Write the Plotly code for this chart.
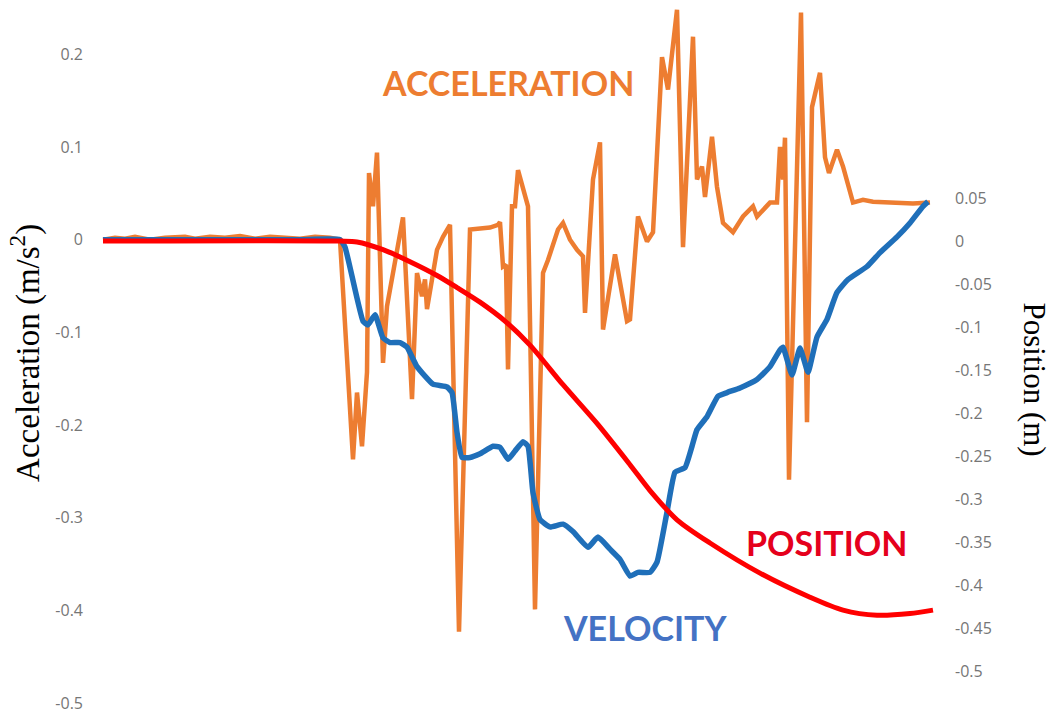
import plotly.graph_objects as go

# ---- data (time in s) ----
acc_t = [0.03, 0.15, 0.25, 0.35, 0.50, 0.65, 0.85, 0.95, 1.10, 1.25, 1.40, 1.55, 1.70, 1.85, 2.00,
         2.15, 2.30, 2.40, 2.53, 2.57, 2.62, 2.67, 2.69, 2.73, 2.77, 2.83, 2.87, 3.03, 3.12, 3.17,
         3.22, 3.25, 3.27, 3.37, 3.43, 3.50, 3.59, 3.70, 3.90, 3.98, 4.00, 4.03, 4.06, 4.08, 4.12,
         4.15, 4.18, 4.28, 4.35, 4.43, 4.48, 4.58, 4.63, 4.70, 4.77, 4.83, 4.85, 4.93, 5.00, 5.03,
         5.08, 5.15, 5.27, 5.30, 5.38, 5.47, 5.53, 5.62, 5.68, 5.77, 5.83, 5.93, 5.97, 6.02, 6.05,
         6.12, 6.17, 6.23, 6.33, 6.43, 6.53, 6.57, 6.70, 6.77, 6.80, 6.83, 6.85, 6.89, 7.01, 7.07,
         7.12, 7.20, 7.25, 7.29, 7.37, 7.43, 7.53, 7.63, 7.73, 7.93, 8.13, 8.30]
acc_v = [0.000, 0.002, 0.001, 0.003, 0.000, 0.002, 0.003, 0.001, 0.003, 0.002, 0.004, 0.001, 0.003, 0.002, 0.001,
         0.003, 0.002, 0.000, -0.237, -0.165, -0.223, -0.143, 0.072, 0.036, 0.094, -0.133, -0.072, 0.024, -0.172, -0.036,
         -0.061, -0.043, -0.075, -0.011, 0.003, 0.016, -0.423, 0.011, 0.013, 0.016, 0.019, -0.029, -0.027, -0.140, 0.036,
         0.036, 0.075, 0.036, -0.399, -0.036, -0.022, 0.011, 0.018, 0.000, -0.011, -0.018, -0.079, 0.065, 0.105, -0.097,
         -0.065, -0.016, -0.088, -0.086, 0.025, -0.002, 0.008, 0.197, 0.162, 0.248, -0.008, 0.219, 0.065, 0.079, 0.046,
         0.111, 0.057, 0.018, 0.008, 0.025, 0.036, 0.025, 0.040, 0.040, 0.100, 0.065, 0.110, -0.259, 0.245, -0.197,
         0.143, 0.180, 0.089, 0.072, 0.097, 0.079, 0.040, 0.043, 0.041, 0.040, 0.039, 0.040]

vel_t = [0.03, 1.00, 2.00, 2.40, 2.45, 2.63, 2.68, 2.75, 2.83, 2.90, 3.00, 3.07, 3.17, 3.33, 3.47,
         3.52, 3.57, 3.62, 3.70, 3.80, 3.93, 4.00, 4.08, 4.15, 4.23, 4.28, 4.33, 4.40, 4.50, 4.63,
         4.73, 4.88, 4.98, 5.10, 5.20, 5.30, 5.38, 5.50, 5.57, 5.67, 5.75, 5.85, 5.92, 5.97, 6.07,
         6.18, 6.27, 6.40, 6.57, 6.70, 6.80, 6.83, 6.92, 7.00, 7.08, 7.17, 7.27, 7.37, 7.48, 7.67,
         7.80, 7.97, 8.10, 8.23, 8.28]
vel_v = [0.000, 0.000, 0.000, 0.000, -0.008, -0.088, -0.092, -0.081, -0.106, -0.111, -0.111, -0.116, -0.137, -0.156, -0.159,
         -0.165, -0.208, -0.235, -0.235, -0.231, -0.223, -0.224, -0.237, -0.228, -0.218, -0.223, -0.273, -0.302, -0.310, -0.307,
         -0.315, -0.332, -0.321, -0.334, -0.345, -0.363, -0.359, -0.359, -0.348, -0.294, -0.251, -0.246, -0.223, -0.205, -0.191,
         -0.169, -0.165, -0.160, -0.151, -0.137, -0.119, -0.116, -0.146, -0.117, -0.143, -0.105, -0.086, -0.057, -0.043, -0.029,
         -0.014, 0.003, 0.018, 0.036, 0.041]

pos_t = [0.03, 2.40, 2.57, 2.83, 3.10, 3.37, 3.57, 3.80, 4.05, 4.30, 4.63, 4.97, 5.30, 5.50, 5.77,
         6.10, 6.60, 7.10, 7.43, 7.77, 8.10, 8.33]
pos_v = [0.000, 0.000, -0.001, -0.010, -0.024, -0.040, -0.054, -0.071, -0.093, -0.121, -0.167, -0.212, -0.260, -0.290, -0.324,
         -0.351, -0.386, -0.414, -0.429, -0.435, -0.433, -0.429]

left_ticks = [0.2, 0.1, 0, -0.1, -0.2, -0.3, -0.4, -0.5]
left_text = ["0.2", "0.1", "0", "-0.1", "-0.2", "-0.3", "-0.4", "-0.5"]
right_ticks = [0.05, 0, -0.05, -0.1, -0.15, -0.2, -0.25, -0.3, -0.35, -0.4, -0.45, -0.5]
right_text = ["0.05", "0", "-0.05", "-0.1", "-0.15", "-0.2", "-0.25", "-0.3", "-0.35", "-0.4", "-0.45", "-0.5"]

ORANGE = "#ED7D31"
BLUE = "#1F6FB9"
RED = "#FF0000"
TICK = "#767676"

fig = go.Figure()
fig.add_trace(go.Scatter(x=acc_t, y=acc_v, mode="lines", name="Acceleration",
                         line=dict(color=ORANGE, width=4.5), yaxis="y"))
fig.add_trace(go.Scatter(x=vel_t, y=vel_v, mode="lines", name="Velocity",
                         line=dict(color=BLUE, width=5.5, shape="spline", smoothing=0.4), yaxis="y"))
fig.add_trace(go.Scatter(x=pos_t, y=pos_v, mode="lines", name="Position",
                         line=dict(color=RED, width=5, shape="spline", smoothing=0.8), yaxis="y2"))

fig.update_layout(
    width=1051, height=716,
    margin=dict(l=100, r=111, t=4, b=13, autoexpand=False),
    paper_bgcolor="white", plot_bgcolor="white",
    showlegend=False,
    xaxis=dict(range=[0, 8.4], visible=False, automargin=False),
    yaxis=dict(range=[-0.5, 0.2543], tickvals=left_ticks, ticktext=left_text,
               showgrid=False, zeroline=False, showline=False, ticks="",
               ticklabelstandoff=16, automargin=False,
               tickfont=dict(family="Open Sans", size=16, color=TICK)),
    yaxis2=dict(range=[-0.537, 0.2756], overlaying="y", side="right",
                tickvals=right_ticks, ticktext=right_text,
                showgrid=False, zeroline=False, showline=False, ticks="",
                ticklabelstandoff=14, automargin=False,
                tickfont=dict(family="Open Sans", size=16, color=TICK)),
    annotations=[
        dict(text="ACCELERATION", x=4.08, y=0.170, xref="x", yref="y", showarrow=False,
             xanchor="center", yanchor="middle",
             font=dict(family="Lato", size=34, color=ORANGE, weight="bold")),
        dict(text="POSITION", x=7.26, y=-0.3265, xref="x", yref="y", showarrow=False,
             xanchor="center", yanchor="middle",
             font=dict(family="Lato", size=34, color="#E5001C", weight="bold")),
        dict(text="VELOCITY", x=5.45, y=-0.419, xref="x", yref="y", showarrow=False,
             xanchor="center", yanchor="middle",
             font=dict(family="Lato", size=34, color="#4472C4", weight="bold")),
        dict(text="Acceleration (m/s<sup>2</sup>)", x=-0.088, y=0.501, xref="paper", yref="paper",
             showarrow=False, textangle=-90, xanchor="center", yanchor="middle",
             font=dict(family="Liberation Serif", size=33, color="black")),
        dict(text="Position (m)", x=1.1125, y=0.4635, xref="paper", yref="paper",
             showarrow=False, textangle=90, xanchor="center", yanchor="middle",
             font=dict(family="Liberation Serif", size=31, color="black")),
    ],
)

fig.write_html("out.html",
               config={"displayModeBar": False},
               post_script="document.body.style.margin='0px';document.body.style.overflow='hidden';")
